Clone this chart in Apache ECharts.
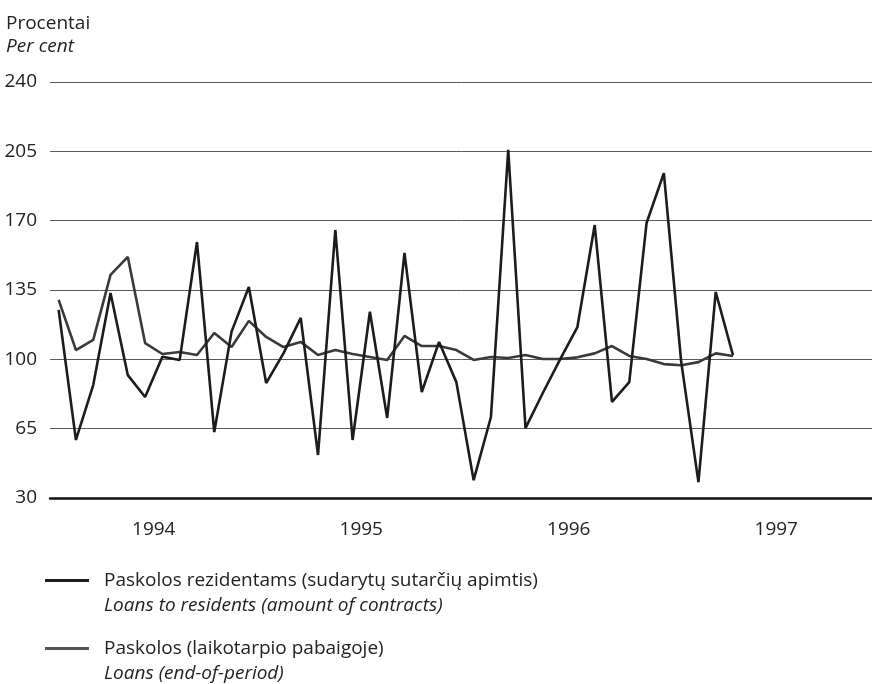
<!DOCTYPE html>
<html>
<head>
<meta charset="utf-8">
<script src="https://cdn.jsdelivr.net/npm/echarts@6/dist/echarts.min.js"></script>
<style>
html,body{margin:0;padding:0;background:#fff;}
#chart{width:872px;height:684px;}
</style>
</head>
<body>
<div id="chart"></div>
<script>
// Tick / category labels
var years = ['1994', '1995', '1996', '1997'];
var monthNames = ['01','02','03','04','05','06','07','08','09','10','11','12'];
var yTicks = [30, 65, 100, 135, 170, 205, 240];

// Series (monthly, Jan 1994 - Apr 1997), percent
var loansContracts = [125, 59.3, 87, 133.5, 92, 81, 101.3, 99.7, 159.2, 63.3,
  114, 136.5, 88, 103, 120.9, 51.7, 165.3, 59.3, 124, 70.4,
  153.7, 83.5, 108.8, 88.5, 39, 70.9, 205.7, 65.3, 83, 100,
  116.3, 167.8, 78.5, 88.5, 168.8, 194, 99, 38, 134, 102];
var loansEnd = [130, 104.7, 109.8, 142.6, 151.7, 108.2, 102.7, 103.7, 102.2, 113.3,
  106.2, 119.4, 111.3, 106.2, 108.8, 102.2, 104.7, 102.7, 101.2, 99.7,
  111.8, 106.7, 106.7, 104.7, 99.7, 101.2, 100.7, 102.2, 100.2, 100.2,
  101, 103, 106.7, 101.7, 100.2, 97.6, 97, 98.6, 103, 101.7];

var seriesNames = ['Paskolos rezidentams (sudarytų sutarčių apimtis)', 'Paskolos (laikotarpio pabaigoje)'];
var seriesNamesEn = ['Loans to residents (amount of contracts)', 'Loans (end-of-period)'];

var months = [];
years.forEach(function (y) { monthNames.forEach(function (m) { months.push(y + '-' + m); }); });

var FONT = 'Open Sans';
var TXT = '#222';
var FS = 19;

var chart = echarts.init(document.getElementById('chart'), null, {renderer: 'canvas'});
chart.setOption({
  backgroundColor: '#fff',
  animation: false,
  textStyle: {fontFamily: FONT},
  title: {
    text: 'Procentai',
    subtext: 'Per cent',
    left: 6, top: 14, padding: 0, itemGap: 4,
    textStyle: {fontFamily: FONT, fontSize: FS, fontWeight: 'normal', color: TXT},
    subtextStyle: {fontFamily: FONT, fontSize: FS, fontStyle: 'italic', color: TXT}
  },
  legend: {
    orient: 'vertical',
    left: 45, top: 546, padding: 0,
    itemGap: -1,
    itemWidth: 44, itemHeight: 3,
    icon: 'rect',
    data: seriesNames,
    formatter: function (name) {
      var i = seriesNames.indexOf(name);
      return '{s| }\n{a|' + name + '}\n{b|' + seriesNamesEn[i] + '}';
    },
    textStyle: {
      fontFamily: FONT, fontSize: FS, color: TXT,
      rich: {
        s: {fontSize: FS, lineHeight: 25, fontFamily: FONT},
        a: {fontSize: FS, lineHeight: 25, color: TXT, fontFamily: FONT, padding: [0, 0, 0, 10]},
        b: {fontSize: FS, lineHeight: 25, color: TXT, fontFamily: FONT, fontStyle: 'italic', padding: [0, 0, 0, 10]}
      }
    }
  },
  grid: {left: 50, right: -8, top: 82, bottom: 186, containLabel: false, outerBoundsMode: 'none'},
  xAxis: [{
    type: 'category',
    data: months,
    boundaryGap: true,
    axisLine: {show: true, lineStyle: {color: '#111', width: 2.5}},
    axisTick: {show: false},
    axisLabel: {show: false},
    splitLine: {show: false}
  }, {
    type: 'category',
    data: years,
    position: 'bottom',
    boundaryGap: true,
    axisLine: {show: false},
    axisTick: {show: false},
    axisLabel: {show: true, margin: 22, fontSize: FS, color: TXT, fontFamily: FONT},
    splitLine: {show: false}
  }],
  yAxis: {
    type: 'value',
    min: yTicks[0], max: yTicks[yTicks.length - 1], interval: 35,
    axisLine: {show: false},
    axisTick: {show: false},
    axisLabel: {margin: 13, fontSize: FS, color: TXT, fontFamily: FONT},
    splitLine: {show: true, lineStyle: {color: '#5a5a5a', width: 1}}
  },
  series: [{
    name: seriesNames[0],
    type: 'line',
    xAxisIndex: 0,
    data: loansContracts,
    showSymbol: false, symbol: 'none',
    lineStyle: {color: '#1c1c1c', width: 2.6},
    itemStyle: {color: '#1c1c1c'},
    z: 3
  }, {
    name: seriesNames[1],
    type: 'line',
    xAxisIndex: 0,
    data: loansEnd,
    showSymbol: false, symbol: 'none',
    lineStyle: {color: '#3a3a3a', width: 2.6},
    itemStyle: {color: '#555'},
    z: 2
  }]
});
</script>
</body>
</html>
